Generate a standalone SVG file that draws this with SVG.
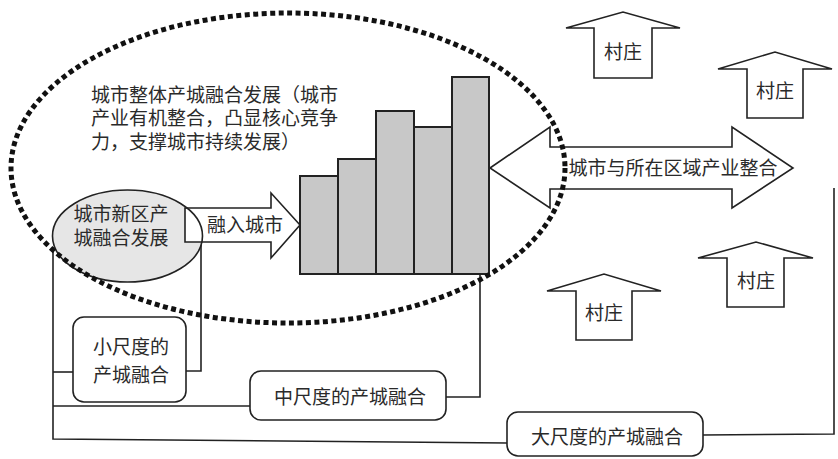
<svg xmlns="http://www.w3.org/2000/svg" width="838" height="459" viewBox="0 0 838 459">
<style>
.t{font-family:"Liberation Sans","Noto Sans CJK SC",sans-serif;font-size:19px;fill:#2a2a2a;}
.c{text-anchor:middle;dominant-baseline:central;}
.l{dominant-baseline:central;}
.ln{fill:none;stroke:#222;stroke-width:1.6;}
.sh{fill:#fff;stroke:#222;stroke-width:1.6;}
.bar{fill:#c8c8c8;stroke:#222;stroke-width:2;}
.box{fill:#fff;stroke:#222;stroke-width:1.6;}
</style>
<rect width="838" height="459" fill="#fff"/>
<g id="connectors">
<polyline class="ln" points="53,247 53,439 507,443"/>
<line class="ln" x1="53" y1="372" x2="73" y2="372"/>
<line class="ln" x1="53" y1="406" x2="250" y2="406"/>
<polyline class="ln" points="186,371 201,371 201,241"/>
<polyline class="ln" points="446,397 480,397 480,274"/>
<polyline class="ln" points="703,435 834,434 834,188"/>
</g>
<g id="new-district">
<ellipse cx="127.5" cy="236" rx="75" ry="46" fill="#e6e6e6" stroke="none"/>
</g>
<g id="arrow-into-city">
<polygon class="sh" points="185,208 271,208 271,193 300,225 271,258 271,242 185,242"/>
<text class="t c" x="245" y="225">融入城市</text>
</g>
<g id="new-district-label">
<ellipse cx="127.5" cy="236" rx="75" ry="46" fill="none" stroke="#222" stroke-width="1.6"/>
<text class="t c"><tspan x="121" y="214">城市新区产</tspan><tspan x="121" y="238">城融合发展</tspan></text>
</g>
<g id="city-bars">
<rect class="bar" x="300" y="176" width="38" height="98"/>
<rect class="bar" x="338" y="159" width="38" height="115"/>
<rect class="bar" x="376" y="111" width="38" height="163"/>
<rect class="bar" x="414" y="127" width="38" height="147"/>
<rect class="bar" x="452" y="77" width="37" height="197"/>
</g>
<g id="region-arrow">
<polygon class="sh" points="490,168 550,127 550,147 732,147 732,127 793,168 732,208 732,189 550,189 550,208"/>
<text class="t c" x="673" y="168">城市与所在区域产业整合</text>
</g>
<g id="city-whole">
<text class="t l"><tspan x="91" y="95">城市整体产城融合发展（城市</tspan><tspan x="91" y="118">产业有机整合，凸显核心竞争</tspan><tspan x="91" y="142">力，支撑城市持续发展）</tspan></text>
</g>
<g id="city-boundary">
<ellipse cx="288" cy="168" rx="277" ry="155" fill="none" stroke="#111" stroke-width="5" stroke-dasharray="5 3.5"/>
</g>
<g id="village-1">
<polygon class="sh" points="594,78 594,28 566,28 623,12 680,28 652,28 652,78"/>
<text class="t c" x="623" y="52">村庄</text>
</g>
<g id="village-2">
<polygon class="sh" points="747,118 747,69 718,69 775,52 832,69 803,69 803,118"/>
<text class="t c" x="775" y="91">村庄</text>
</g>
<g id="village-3">
<polygon class="sh" points="576,340 576,291 547,291 604,274 661,291 632,291 632,340"/>
<text class="t c" x="604" y="313">村庄</text>
</g>
<g id="village-4">
<polygon class="sh" points="727,307 727,258 698,258 756,242 813,258 784,258 784,307"/>
<text class="t c" x="756" y="281">村庄</text>
</g>
<g id="small-scale">
<rect class="box" x="73" y="317" width="113" height="85" rx="11"/>
<text class="t c"><tspan x="131" y="347">小尺度的</tspan><tspan x="131" y="375">产城融合</tspan></text>
</g>
<g id="mid-scale">
<rect class="box" x="250" y="371" width="196" height="49" rx="11"/>
<text class="t c" x="350" y="397">中尺度的产城融合</text>
</g>
<g id="large-scale">
<rect class="box" x="507" y="412" width="196" height="44" rx="11"/>
<text class="t c" x="607" y="437">大尺度的产城融合</text>
</g>
</svg>
